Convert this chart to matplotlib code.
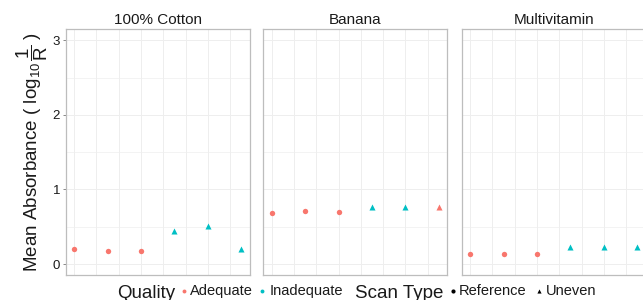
import matplotlib
matplotlib.use("Agg")
import matplotlib.pyplot as plt
from matplotlib.lines import Line2D

plt.rcParams['font.family'] = ['Liberation Sans', 'DejaVu Sans']
plt.rcParams['mathtext.fontset'] = 'custom'
plt.rcParams['mathtext.rm'] = 'Liberation Sans'
plt.rcParams['mathtext.it'] = 'Liberation Sans'
plt.rcParams['mathtext.bf'] = 'Liberation Sans:bold'

# ---------------- data ----------------
products = ["100% Cotton", "Banana", "Multivitamin"]
scan_pos = [0, 3, 6, 9, 12, 15]
scan_type = ["Reference", "Reference", "Reference", "Uneven", "Uneven", "Uneven"]
cotton_abs = [0.197, 0.178, 0.174, 0.44, 0.505, 0.20]
banana_abs = [0.679, 0.706, 0.696, 0.767, 0.767, 0.76]
multi_abs = [0.134, 0.134, 0.130, 0.232, 0.232, 0.232]
cotton_quality = ["Adequate", "Adequate", "Adequate", "Inadequate", "Inadequate", "Inadequate"]
banana_quality = ["Adequate", "Adequate", "Adequate", "Inadequate", "Inadequate", "Adequate"]
multi_quality = ["Adequate", "Adequate", "Adequate", "Inadequate", "Inadequate", "Inadequate"]
y_ticks = [0, 1, 2, 3]
y_tick_labels = ["0", "1", "2", "3"]

quality_levels = ["Adequate", "Inadequate"]
quality_colors = {"Adequate": "#F8766D", "Inadequate": "#00BFC4"}
scan_levels = ["Reference", "Uneven"]
scan_markers = {"Reference": "o", "Uneven": "^"}
scan_sizes = {"Reference": 15, "Uneven": 19}

values = [cotton_abs, banana_abs, multi_abs]
qualities = [cotton_quality, banana_quality, multi_quality]

# ---------------- layout ----------------
W, H = 643.0, 300.0
fig = plt.figure(figsize=(W / 100, H / 100), dpi=100)
panel_left = [65.7, 263.3, 461.7]
panel_w = 184.0
top, bottom = 29.0, 275.3
border_col = "#BDBDBD"
grid_col = "#EEEEEE"

for i, name in enumerate(products):
    ax = fig.add_axes([panel_left[i] / W, 1 - bottom / H, panel_w / W, (bottom - top) / H])
    ax.set_xlim(-0.75, 15.75)
    ax.set_ylim(-0.15, 3.15)
    ax.set_xticks(range(0, 15, 2))
    ax.set_yticks(y_ticks)
    ax.set_yticks([0.5, 1.5, 2.5], minor=True)
    ax.grid(which="major", color=grid_col, lw=0.7)
    ax.grid(which="minor", color=grid_col, lw=0.5)
    ax.set_axisbelow(True)
    ax.tick_params(axis="x", which="both", length=0, labelbottom=False)
    ax.tick_params(axis="y", which="minor", length=0)
    if i == 0:
        ax.set_yticklabels(y_tick_labels)
        ax.tick_params(axis="y", which="major", length=2.5, width=0.7, color="#888888",
                       labelsize=9.5, labelcolor="#1a1a1a", pad=1.5)
    else:
        ax.tick_params(axis="y", which="major", length=0, labelleft=False)
    for s in ax.spines.values():
        s.set_color(border_col)
        s.set_linewidth(0.9)
    for x, y, q, st in zip(scan_pos, values[i], qualities[i], scan_type):
        ax.scatter([x], [y], s=scan_sizes[st], marker=scan_markers[st],
                   color=quality_colors[q], linewidths=0, zorder=3)
    fig.text((panel_left[i] + panel_w / 2) / W, 1 - 20.5 / H, name,
             ha="center", va="center", fontsize=11, color="#1a1a1a")

# y label
fig.text(32 / W, 1 - 152 / H,
         r"Mean Absorbance ( $\log_{10}\dfrac{1}{\mathrm{R}}$ )",
         rotation=90, ha="center", va="center", fontsize=13.5, color="#1a1a1a")

# legend (manual, bottom)
def fy(y):
    return 1 - y / H

fig.text(117.3 / W, fy(297.5), "Quality", fontsize=13.5, ha="left", va="baseline", color="#1a1a1a")
q_key_x = [183.7, 262.3]
q_lab_x = [190, 270]
for lvl, kx, lx in zip(quality_levels, q_key_x, q_lab_x):
    fig.add_artist(Line2D([kx / W], [fy(291.3)], marker="o", ms=2.8, mew=0,
                          color=quality_colors[lvl], linestyle="none", transform=fig.transFigure))
    fig.text(lx / W, fy(295.3), lvl, fontsize=10.5, ha="left", va="baseline", color="#1a1a1a")

fig.text(355 / W, fy(297.5), "Scan Type", fontsize=13.5, ha="left", va="baseline", color="#1a1a1a")
s_key_x = [452.7, 539.3]
s_lab_x = [459, 545.5]
for lvl, kx, lx in zip(scan_levels, s_key_x, s_lab_x):
    fig.add_artist(Line2D([kx / W], [fy(291.3)], marker=scan_markers[lvl], ms=3.0, mew=0,
                          color="black", linestyle="none", transform=fig.transFigure))
    fig.text(lx / W, fy(295.3), lvl, fontsize=10.5, ha="left", va="baseline", color="#1a1a1a")

fig.savefig("out.png", dpi=100)
